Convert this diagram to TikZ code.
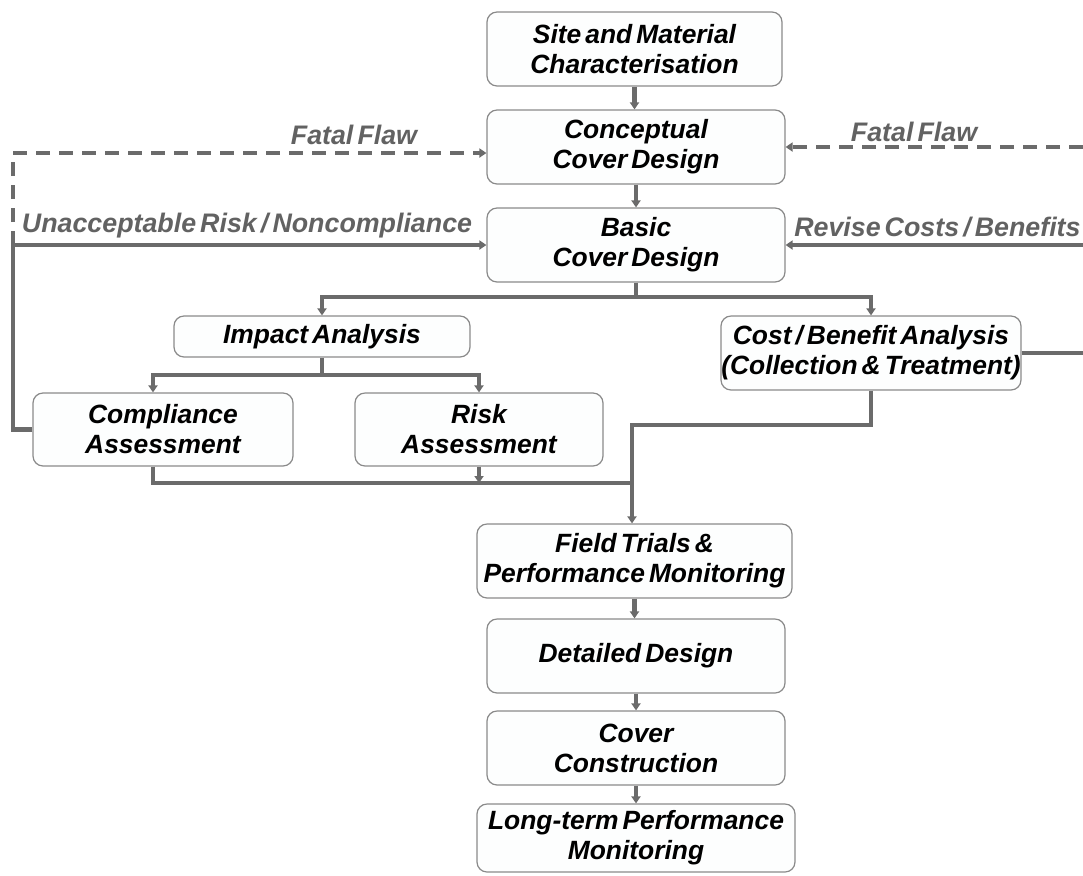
\documentclass[tikz,border=0pt]{standalone}
\usepackage{fontspec}
\setmainfont[WordSpace=0.55]{Liberation Sans}
\usetikzlibrary{arrows.meta}
\definecolor{conncol}{HTML}{6B6B6B}
\definecolor{labcol}{HTML}{626262}
\definecolor{boxline}{HTML}{8A8A8A}
\definecolor{boxfill}{HTML}{FDFEFE}
\begin{document}
\begin{tikzpicture}[x=0.5pt,y=-0.5pt,
  box/.style={draw=boxline,line width=0.6pt,fill=boxfill,rounded corners=5pt,
    align=center,inner sep=0pt,font=\fontsize{13.2}{15}\selectfont\bfseries\itshape},
  conn/.style={draw=conncol,line width=2.1pt},
  arr/.style={conn,-{Triangle[length=3.5pt,width=4.5pt]}},
  dashconn/.style={conn,dash pattern=on 7pt off 4.5pt},
  lab/.style={text=labcol,inner sep=0pt,font=\fontsize{13.4}{15}\selectfont\bfseries\itshape}]
\useasboundingbox (0,0) rectangle (1083,875);
% boxes
\node[box,minimum width=147.5pt,minimum height=37pt] (A) at (634.5,49) {Site and Material\\Characterisation};
\node[box,minimum width=149pt,minimum height=37pt] (B) at (636,147) {Conceptual\\Cover Design};
\node[box,minimum width=149pt,minimum height=37pt] (C) at (636,245) {Basic\\Cover Design};
\node[box,minimum width=148pt,minimum height=20.5pt] (D) at (322,336.5) {Impact Analysis};
\node[box,minimum width=150pt,minimum height=37pt] (E) at (871,353) {Cost / Benefit Analysis\\(Collection \& Treatment)};
\node[box,minimum width=130pt,minimum height=36.5pt] (F) at (163,429.5) {Compliance\\Assessment};
\node[box,minimum width=124pt,minimum height=36.5pt] (G) at (479,429.5) {Risk\\Assessment};
\node[box,minimum width=157.5pt,minimum height=37pt] (H) at (634.5,561) {Field Trials \&\\Performance Monitoring};
\node[box,minimum width=149pt,minimum height=37pt] (I) at (636,656) {Detailed Design};
\node[box,minimum width=149pt,minimum height=37pt] (J) at (636,748) {Cover\\Construction};
\node[box,minimum width=159pt,minimum height=34pt] (K) at (636,838) {Long-term Performance\\Monitoring};
% main flow
\draw[arr] (A.south) -- (A.south |- B.north);
\draw[arr] (B.south) -- (B.south |- C.north);
\coordinate (cf) at (637,297);
\draw[conn] (C.south) -- (C.south |- cf);
\draw[arr] (C.south |- cf) -| (D.north);
\draw[arr] (C.south |- cf) -| (E.north);
\coordinate (df) at (322,375);
\coordinate (f1) at (153,375);
\draw[conn] (D.south) -- (df);
\draw[arr] (df) -- (f1) -- (f1 |- F.north);
\draw[arr] (df) -| (G.north);
\coordinate (fb) at (153,483);
\coordinate (hj) at (632,425);
\coordinate (hm) at (632,483);
\draw[conn] (fb |- F.south) -- (fb) -- (hm);
\draw[arr] (G.south) -- (G.south |- fb);
\draw[arr] (E.south) |- (hj) -- (hj |- H.north);
\draw[arr] (H.south) -- (H.south |- I.north);
\draw[arr] (I.south) -- (I.south |- J.north);
\draw[arr] (J.south) -- (J.south |- K.north);
% left feedback
\coordinate (lx) at (13,245);
\coordinate (dl) at (13,153);
\draw[arr] (F.west) -| (lx) -- (lx -| C.west);
\draw[dashconn,-{Triangle[length=3.5pt,width=4.5pt]}] (lx) -- (dl) -- (dl -| B.west);
% right feedback
\coordinate (rx) at (1100,245);
\coordinate (rd) at (1100,147);
\draw[conn] (E.east) -- (E.east -| rx) -- (rx);
\draw[arr] (rx) -- (C.east);
\draw[dashconn,-{Triangle[length=3.5pt,width=4.5pt]}] (rx) -- (rd) -- (B.east);
% labels
\node[lab] (l1) at (354,135) {Fatal Flaw};
\node[lab] (l2) at (247,226) {Unacceptable Risk / Noncompliance};
\node[lab] (l3) at (914,132) {Fatal Flaw};
\node[lab,anchor=east] (l4) at (1081,227) {Revise Costs / Benefits};
\end{tikzpicture}
\end{document}
